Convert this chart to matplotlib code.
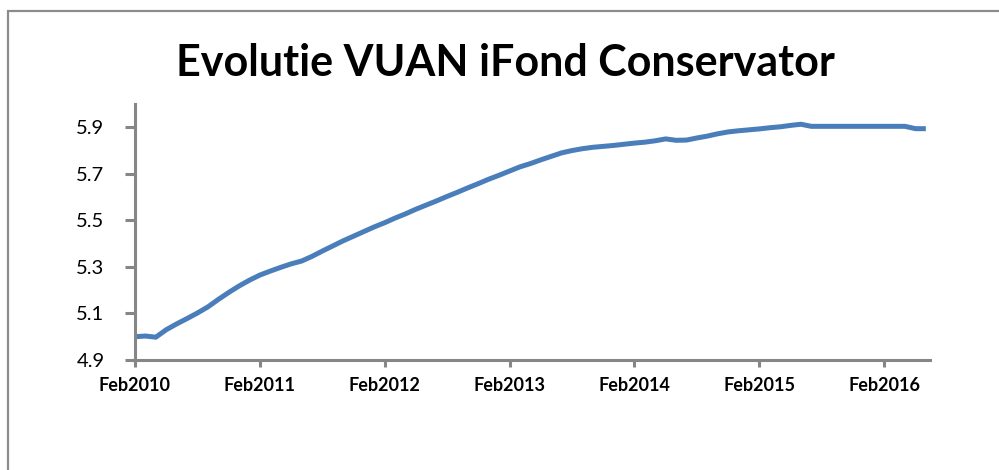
import matplotlib
matplotlib.use("Agg")
import matplotlib.pyplot as plt
from matplotlib.patches import Rectangle

# months since Feb 2010
months = list(range(0, 77))
vuan = [5.000, 5.003, 4.998, 5.030, 5.055, 5.078, 5.102, 5.128, 5.160, 5.190,
        5.218, 5.243, 5.265, 5.282, 5.298, 5.313, 5.325, 5.345, 5.368, 5.390,
        5.412, 5.432, 5.452, 5.472, 5.490, 5.510, 5.528, 5.548, 5.566, 5.584,
        5.603, 5.621, 5.640, 5.658, 5.677, 5.694, 5.712, 5.730, 5.744, 5.760,
        5.775, 5.790, 5.800, 5.808, 5.814, 5.818, 5.822, 5.827, 5.832, 5.836,
        5.842, 5.850, 5.844, 5.845, 5.854, 5.862, 5.872, 5.880, 5.885, 5.889,
        5.893, 5.898, 5.902, 5.908, 5.913, 5.904, 5.904, 5.904, 5.904, 5.904,
        5.904, 5.904, 5.904, 5.904, 5.904, 5.894, 5.894]
tick_months = [0, 12, 24, 36, 48, 60, 72]
tick_labels = ["Feb2010", "Feb2011", "Feb2012", "Feb2013", "Feb2014", "Feb2015", "Feb2016"]
y_ticks = [4.9, 5.1, 5.3, 5.5, 5.7, 5.9]

plt.rcParams['font.family'] = ['Lato', 'DejaVu Sans']
W, H = 999, 470
fig = plt.figure(figsize=(W / 100, H / 100), dpi=100)
ax = fig.add_axes([135 / W, 1 - 360 / H, (930 - 135) / W, (360 - 104) / H])

ax.plot(months, vuan, color='#4A7EBB', lw=3.6, solid_capstyle='butt')
ax.set_xlim(0, 76.4)
ax.set_ylim(4.9, 6.0)

grey = '#868686'
for s in ['top', 'right']:
    ax.spines[s].set_visible(False)
for s in ['left', 'bottom']:
    ax.spines[s].set_color(grey)
    ax.spines[s].set_linewidth(2.2)

ax.set_yticks(y_ticks)
ax.set_yticklabels([f"{v:.1f}" for v in y_ticks])
ax.set_xticks(tick_months)
ax.set_xticklabels(tick_labels, fontweight='bold')
ax.tick_params(axis='y', length=7, width=2.2, color=grey, labelsize=14.5, pad=15)
ax.tick_params(axis='x', length=5, width=2.2, color=grey, labelsize=13, pad=7)

fig.text(0.506, 1 - 63 / H, "Evolutie VUAN iFond Conservator", ha='center', va='center',
         fontsize=31, fontweight='bold')

# outer chart border (cut off at right and bottom)
fig.add_artist(Rectangle((8 / W, -0.5), 2, 0.5 + 1 - 11 / H, transform=fig.transFigure,
                         fill=False, ec='#8c8c8c', lw=1.6))

fig.savefig("out.png", dpi=100)
